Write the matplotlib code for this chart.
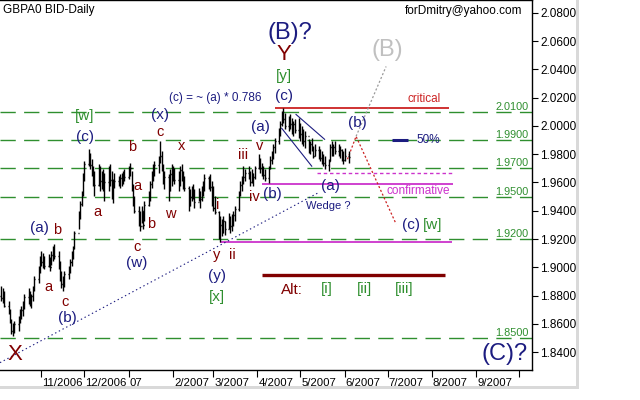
import matplotlib
matplotlib.use("Agg")
import matplotlib.pyplot as plt
import matplotlib.dates as mdates
import matplotlib.transforms as mtransforms
from matplotlib.patches import Rectangle
import numpy as np
import pandas as pd

plt.rcParams['font.family'] = ['Liberation Sans', 'DejaVu Sans']
plt.rcParams['lines.scale_dashes'] = False

# --- DATOS (GBP/USD diario) ---
first_day = "2006-10-04"
last_day = "2007-06-04"
first_open = 1.8800

highs = [
    1.8869, 1.8855, 1.8833, 1.8763, 1.8707, 1.8636, 1.8608, 1.8622, 1.8657, 1.8707,
    1.8728, 1.8763, 1.8812, 1.8855, 1.8833, 1.8812, 1.8869, 1.8939, 1.9010, 1.9080,
    1.9115, 1.9101, 1.9080, 1.9094, 1.9073, 1.9115, 1.9151, 1.9165, 1.9115, 1.9045,
    1.8974, 1.8939, 1.8974, 1.9010, 1.9059, 1.9115, 1.9151, 1.9256, 1.9397, 1.9468,
    1.9538, 1.9665, 1.9750, 1.9835, 1.9806, 1.9764, 1.9715, 1.9679, 1.9729, 1.9715,
    1.9679, 1.9694, 1.9665, 1.9715, 1.9729, 1.9679, 1.9623, 1.9665, 1.9644, 1.9658,
    1.9665, 1.9679, 1.9694, 1.9715, 1.9736, 1.9679, 1.9588, 1.9503, 1.9433, 1.9397,
    1.9433, 1.9397, 1.9468, 1.9538, 1.9609, 1.9679, 1.9729, 1.9750, 1.9785, 1.9891,
    1.9820, 1.9729, 1.9679, 1.9658, 1.9694, 1.9729, 1.9715, 1.9701, 1.9679, 1.9715,
    1.9729, 1.9679, 1.9644, 1.9574, 1.9553, 1.9574, 1.9588, 1.9553, 1.9560, 1.9538,
    1.9574, 1.9609, 1.9658, 1.9644, 1.9658, 1.9609, 1.9574, 1.9503, 1.9397, 1.9362,
    1.9341, 1.9362, 1.9327, 1.9383, 1.9362, 1.9376, 1.9397, 1.9433, 1.9538, 1.9609,
    1.9644, 1.9715, 1.9694, 1.9715, 1.9679, 1.9694, 1.9665, 1.9715, 1.9799, 1.9771,
    1.9736, 1.9715, 1.9694, 1.9715, 1.9785, 1.9820, 1.9870, 1.9912, 1.9983, 2.0032,
    2.0102, 2.0123, 2.0088, 2.0067, 2.0081, 2.0053, 2.0032, 2.0046, 2.0053, 2.0018,
    1.9997, 1.9976, 1.9961, 1.9905, 1.9891, 1.9912, 1.9856, 1.9870, 1.9856, 1.9835,
    1.9820, 1.9799, 1.9785, 1.9764, 1.9870, 1.9891, 1.9870, 1.9891, 1.9870, 1.9856,
    1.9835, 1.9820, 1.9842, 1.9820,
]
lows = [
    1.8763, 1.8749, 1.8721, 1.8671, 1.8608, 1.8530, 1.8516, 1.8538, 1.8552, 1.8608,
    1.8636, 1.8657, 1.8707, 1.8742, 1.8728, 1.8714, 1.8763, 1.8833, 1.8890, 1.8960,
    1.9010, 1.8996, 1.8989, 1.9003, 1.8974, 1.9017, 1.9045, 1.9059, 1.8989, 1.8904,
    1.8855, 1.8833, 1.8862, 1.8918, 1.8960, 1.9010, 1.9059, 1.9130, 1.9271, 1.9341,
    1.9433, 1.9503, 1.9609, 1.9715, 1.9694, 1.9644, 1.9574, 1.9503, 1.9574, 1.9538,
    1.9553, 1.9538, 1.9468, 1.9538, 1.9574, 1.9482, 1.9454, 1.9560, 1.9574, 1.9560,
    1.9574, 1.9588, 1.9609, 1.9623, 1.9644, 1.9538, 1.9433, 1.9383, 1.9292, 1.9256,
    1.9313, 1.9271, 1.9327, 1.9433, 1.9468, 1.9560, 1.9609, 1.9644, 1.9665, 1.9736,
    1.9679, 1.9588, 1.9553, 1.9468, 1.9538, 1.9574, 1.9609, 1.9588, 1.9538, 1.9574,
    1.9609, 1.9553, 1.9538, 1.9397, 1.9433, 1.9468, 1.9482, 1.9419, 1.9468, 1.9419,
    1.9468, 1.9503, 1.9538, 1.9553, 1.9538, 1.9433, 1.9397, 1.9376, 1.9200, 1.9179,
    1.9221, 1.9242, 1.9228, 1.9271, 1.9242, 1.9256, 1.9292, 1.9327, 1.9397, 1.9503,
    1.9538, 1.9588, 1.9609, 1.9623, 1.9574, 1.9595, 1.9574, 1.9623, 1.9694, 1.9665,
    1.9644, 1.9623, 1.9609, 1.9595, 1.9694, 1.9729, 1.9764, 1.9806, 1.9870, 1.9926,
    1.9997, 2.0018, 1.9976, 1.9961, 1.9976, 1.9940, 1.9926, 1.9947, 1.9912, 1.9891,
    1.9870, 1.9856, 1.9842, 1.9806, 1.9799, 1.9820, 1.9771, 1.9785, 1.9764, 1.9750,
    1.9729, 1.9715, 1.9694, 1.9679, 1.9750, 1.9785, 1.9785, 1.9799, 1.9785, 1.9771,
    1.9750, 1.9729, 1.9750, 1.9736,
]
closes = [
    1.8780, 1.8770, 1.8730, 1.8690, 1.8620, 1.8550, 1.8570, 1.8600, 1.8640, 1.8690,
    1.8700, 1.8745, 1.8790, 1.8780, 1.8750, 1.8800, 1.8850, 1.8920, 1.8990, 1.9060,
    1.9040, 1.9070, 1.9010, 1.9060, 1.9000, 1.9090, 1.9120, 1.9080, 1.9000, 1.8930,
    1.8880, 1.8910, 1.8950, 1.8990, 1.9040, 1.9100, 1.9140, 1.9240, 1.9380, 1.9450,
    1.9520, 1.9650, 1.9730, 1.9760, 1.9720, 1.9680, 1.9600, 1.9580, 1.9690, 1.9610,
    1.9650, 1.9570, 1.9600, 1.9680, 1.9620, 1.9520, 1.9590, 1.9610, 1.9600, 1.9630,
    1.9620, 1.9660, 1.9640, 1.9690, 1.9700, 1.9560, 1.9460, 1.9400, 1.9310, 1.9290,
    1.9400, 1.9300, 1.9440, 1.9510, 1.9590, 1.9660, 1.9700, 1.9720, 1.9770, 1.9790,
    1.9700, 1.9610, 1.9640, 1.9550, 1.9660, 1.9630, 1.9680, 1.9620, 1.9650, 1.9690,
    1.9650, 1.9590, 1.9560, 1.9440, 1.9500, 1.9530, 1.9500, 1.9460, 1.9530, 1.9480,
    1.9550, 1.9590, 1.9630, 1.9600, 1.9570, 1.9460, 1.9420, 1.9390, 1.9230, 1.9300,
    1.9250, 1.9330, 1.9270, 1.9350, 1.9290, 1.9340, 1.9370, 1.9410, 1.9520, 1.9580,
    1.9620, 1.9640, 1.9670, 1.9650, 1.9600, 1.9660, 1.9640, 1.9700, 1.9760, 1.9700,
    1.9680, 1.9650, 1.9630, 1.9700, 1.9760, 1.9800, 1.9850, 1.9890, 1.9960, 2.0010,
    2.0080, 2.0050, 2.0000, 2.0040, 2.0010, 1.9980, 2.0010, 1.9970, 1.9990, 1.9940,
    1.9960, 1.9890, 1.9930, 1.9830, 1.9870, 1.9840, 1.9790, 1.9830, 1.9800, 1.9770,
    1.9790, 1.9740, 1.9720, 1.9750, 1.9850, 1.9830, 1.9850, 1.9820, 1.9800, 1.9830,
    1.9770, 1.9760, 1.9790, 1.9780,
]

# niveles horizontales (lineas verdes discontinuas)
levels = [2.0100, 1.9900, 1.9700, 1.9500, 1.9200, 1.8500]
level_labels = ["2.0100", "1.9900", "1.9700", "1.9500", "1.9200", "1.8500"]

y_ticks = [1.8400, 1.8600, 1.8800, 1.9000, 1.9200, 1.9400, 1.9600,
           1.9800, 2.0000, 2.0200, 2.0400, 2.0600, 2.0800]
month_ticks = ["2006-11-01", "2006-12-01", "2007-01-01", "2007-02-01", "2007-03-01",
               "2007-04-01", "2007-05-01", "2007-06-01", "2007-07-01", "2007-08-01",
               "2007-09-01", "2007-10-01"]
month_labels = ["11/2006", "12/2006", "07", "2/2007", "3/2007", "4/2007", "5/2007",
                "6/2007", "7/2007", "8/2007", "9/2007", ""]

# lineas de analisis
critical_level, critical_span = 2.0123, ("2007-04-13", "2007-08-13")
confirm_level, confirm_span = 1.9590, ("2007-04-04", "2007-08-16")
confirm_dash_level, confirm_dash_span = 1.9665, ("2007-05-13", "2007-08-16")
low_level, low_span = 1.9179, ("2007-03-06", "2007-08-15")
alt_level, alt_span = 1.8943, ("2007-04-04", "2007-08-10")
fifty_level, fifty_span = 1.9900, ("2007-07-04", "2007-07-15")
wedge_up_dates, wedge_up_prices = ("2007-04-28", "2007-05-18"), (2.0081, 1.9905)
wedge_lo_dates, wedge_lo_prices = ("2007-04-18", "2007-05-09"), (1.9983, 1.9715)
trend_dates, trend_prices = ("2006-10-03", "2007-05-13"), (1.8326, 1.9524)
proj_dates, proj_prices = ("2007-06-03", "2007-06-09", "2007-07-07"), (1.9764, 1.9926, 1.9306)
alt_proj_dates, alt_proj_prices = ("2007-06-09", "2007-06-30"), (1.9926, 2.0420)

# --- COLORES ---
NAVY = "#1c1c80"
DRED = "#800000"
GREEN = "#2f8f2f"
MAG = "#cc33cc"
RED = "#cc2222"


def d(s):
    return mdates.date2num(pd.Timestamp(s))


fig = plt.figure(figsize=(6.4, 4), dpi=100)
ax = fig.add_axes([0, 1 - 370 / 400, 532 / 640, 370 / 400])

dates = mdates.date2num(pd.bdate_range(first_day, last_day))
opens = [first_open] + closes[:-1]

# barras OHLC
ax.vlines(dates, lows, highs, color="black", lw=1.0, zorder=5)
ax.hlines(opens, dates - 0.7, dates, color="black", lw=1.0, zorder=5)
ax.hlines(closes, dates, dates + 0.7, color="black", lw=1.0, zorder=5)

x0 = d("2006-10-03")
ax.set_xlim(x0, x0 + 532 / 1.43)
ax.set_ylim(1.8274, 2.0890)

# niveles verdes
for lv, lab in zip(levels, level_labels):
    ax.axhline(lv, color=GREEN, lw=1.0, dashes=(11, 6), zorder=2)
    ax.text(0.993, lv, lab, transform=mtransforms.blended_transform_factory(ax.transAxes, ax.transData),
            ha="right", va="bottom", color=GREEN, fontsize=7.8)

# lineas horizontales de analisis
ax.hlines(critical_level, d(critical_span[0]), d(critical_span[1]), color=RED, lw=1.3, zorder=3)
ax.hlines(confirm_level, d(confirm_span[0]), d(confirm_span[1]), color=MAG, lw=1.3, zorder=3)
ax.hlines(confirm_dash_level, d(confirm_dash_span[0]), d(confirm_dash_span[1]), color=MAG, lw=1.0,
          linestyles=[(0, (2.5, 2))], zorder=3)
ax.hlines(low_level, d(low_span[0]), d(low_span[1]), color=MAG, lw=1.3, zorder=3)
ax.hlines(alt_level, d(alt_span[0]), d(alt_span[1]), color=DRED, lw=2.4, zorder=3)
ax.hlines(fifty_level, d(fifty_span[0]), d(fifty_span[1]), color=NAVY, lw=2.2, zorder=3)

# cuña y lineas de tendencia
ax.plot([d(s) for s in wedge_up_dates], wedge_up_prices, color=NAVY, lw=0.8, zorder=4)
ax.plot([d(s) for s in wedge_lo_dates], wedge_lo_prices, color=NAVY, lw=0.8, zorder=4)
ax.plot([d(s) for s in trend_dates], trend_prices, color=NAVY, lw=0.8, dashes=(1, 2), zorder=4)
ax.plot([d(s) for s in proj_dates], proj_prices, color=RED, lw=0.9, dashes=(1.5, 1.5), zorder=4)
ax.plot([d(s) for s in alt_proj_dates], alt_proj_prices, color="#999999", lw=0.9, dashes=(1.5, 1.5), zorder=4)

# ejes
ax.yaxis.tick_right()
ax.set_yticks(y_ticks)
ax.set_yticklabels([f"{v:.4f}" for v in y_ticks])
ax.tick_params(axis="y", direction="out", length=4, pad=2, labelsize=8.5, colors="black")
ax.set_xticks([d(s) for s in month_ticks])
ax.set_xticklabels(month_labels, ha="left")
ax.tick_params(axis="x", direction="out", length=5, pad=1, labelsize=8.2)
off = mtransforms.ScaledTranslation(1 / 100, 0, fig.dpi_scale_trans)
for lab in ax.get_xticklabels():
    lab.set_transform(lab.get_transform() + off)
ax.spines["left"].set_visible(False)
for s in ("top", "right", "bottom"):
    ax.spines[s].set_linewidth(1.0)


# textos en pixeles de la imagen
def put(s, x, y, color, size, ha="center"):
    fig.text(x / 640, 1 - y / 400, s, color=color, fontsize=size, ha=ha, va="center")


put("GBPA0 BID-Daily", 3, 10, "black", 8.5, ha="left")
put("forDmitry@yahoo.com", 522, 11, "black", 8.5, ha="right")
put("(B)?", 290, 33, NAVY, 17)
put("Y", 284, 55, DRED, 16)
put("[y]", 284, 76, GREEN, 11)
put("(c)", 284, 96, NAVY, 11)
put("(c) = ~ (a) * 0.786", 215, 98, NAVY, 8.5)
put("[w]", 85, 116, GREEN, 11)
put("(c)", 85, 137, NAVY, 11)
put("(x)", 160, 115, NAVY, 11)
put("c", 160, 132, DRED, 10.5)
put("b", 132, 147, DRED, 10.5)
put("x", 182, 146, DRED, 10.5)
put("a", 137, 186, DRED, 10.5)
put("iii", 243, 155, DRED, 10.5)
put("v", 260, 146, DRED, 10.5)
put("(a)", 260, 127, NAVY, 11)
put("iv", 254, 197, DRED, 10.5)
put("(b)", 272, 194, NAVY, 11)
put("(a)", 330, 186, NAVY, 11)
put("Wedge ?", 328, 206, NAVY, 8)
put("(b)", 357, 123, NAVY, 11)
put("critical", 424, 99, RED, 8.5)
put("50%", 428, 140, NAVY, 8.5)
put("confirmative", 418, 191, MAG, 8.5)
put("(c)", 411, 225, NAVY, 11)
put("[w]", 433, 225, GREEN, 11)
put("(B)", 387, 50, "#c0c0c0", 17)
put("(C)?", 505, 354, NAVY, 17)
put("X", 15, 355, DRED, 16)
put("(a)", 39, 228, NAVY, 11)
put("b", 57, 230, DRED, 10.5)
put("a", 48, 287, DRED, 10.5)
put("c", 65, 302, DRED, 10.5)
put("(b)", 67, 318, NAVY, 11)
put("a", 97, 212, DRED, 10.5)
put("b", 151, 224, DRED, 10.5)
put("w", 170, 214, DRED, 10.5)
put("c", 137, 247, DRED, 10.5)
put("(w)", 137, 263, NAVY, 11)
put("i", 218, 205, DRED, 10.5)
put("y", 217, 255, DRED, 10.5)
put("ii", 232, 255, DRED, 10.5)
put("(y)", 217, 276, NAVY, 11)
put("[x]", 217, 297, GREEN, 11)
put("Alt:", 292, 290, DRED, 11)
put("[i]", 327, 289, GREEN, 11)
put("[ii]", 364, 289, GREEN, 11)
put("[iii]", 404, 289, GREEN, 11)

# marco gris exterior
fig.add_artist(Rectangle((575.5 / 640, 1 - 388.5 / 400), 3 / 640, 388.5 / 400,
                         transform=fig.transFigure, color="#d9d9d9", lw=0))
fig.add_artist(Rectangle((0, 1 - 388.5 / 400), 578.5 / 640, 3 / 400,
                         transform=fig.transFigure, color="#d9d9d9", lw=0))

fig.savefig("out.png", dpi=100)
